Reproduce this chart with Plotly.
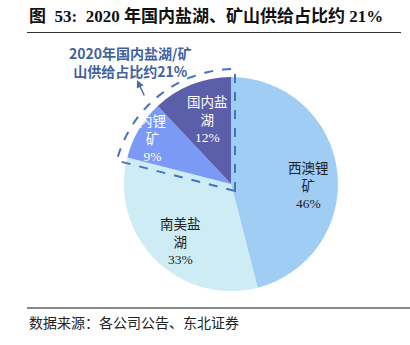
import math
import plotly.graph_objects as go

# ---- data ----
labels = ["西澳锂矿", "南美盐湖", "内锂矿", "国内盐湖"]
label_text = ["西澳锂<br>矿<br>46%", "南美盐<br>湖<br>33%", "内锂<br>矿<br>9%", "国内盐<br>湖<br>12%"]
values = [46, 33, 9, 12]
colors = ["#9fcdf4", "#cdecf4", "#7b9af6", "#5b5ea8"]
text_colors = ["#222222", "#222222", "#ffffff", "#ffffff"]
# label centres in pixels (estimated from reference)
label_pos = [(308, 186), (180, 242), (152, 139), (207, 120)]

title = "图  53:  2020 年国内盐湖、矿山供给占比约 21%"
source = "数据来源：各公司公告、东北证券"
callout = "2020年国内盐湖/矿<br>山供给占比约21%"

W, H = 410, 345
cx, cy, r = 231, 184, 107


def px(x, y):
    return x / W, 1 - y / H


fig = go.Figure()
fig.add_trace(go.Pie(
    labels=labels, values=values, sort=False, direction="clockwise", rotation=0,
    marker=dict(colors=colors, line=dict(width=0)),
    textinfo="none", hoverinfo="label+percent", showlegend=False,
    domain=dict(x=[(cx - r) / W, (cx + r) / W], y=[1 - (cy + r) / H, 1 - (cy - r) / H]),
))

# slice labels
for t, c, (lx, ly) in zip(label_text, text_colors, label_pos):
    xp, yp = px(lx, ly)
    fig.add_annotation(x=xp, y=yp, xref="paper", yref="paper", text=t, showarrow=False,
                       font=dict(size=13.5, color=c, family="Liberation Serif, Noto Sans CJK SC"),
                       align="center", xanchor="center", yanchor="middle")

# dashed sector around domestic share (angles from data)
total = sum(values)
a0 = sum(values[:2]) / total * 360
a1 = 360.0
ocx, ocy, orr = 235, 191, 122
pts = []
n = 40
for i in range(n + 1):
    a = math.radians(a0 + (a1 - a0) * i / n)
    pts.append(px(ocx + orr * math.sin(a), ocy - orr * math.cos(a)))
c0 = px(ocx, ocy)
path = f"M {c0[0]},{c0[1]} " + " ".join(f"L {x},{y}" for x, y in pts) + " Z"
fig.add_shape(type="path", path=path, xref="paper", yref="paper",
              line=dict(color="#4472c4", width=2, dash="dash"), fillcolor="rgba(0,0,0,0)")

# callout text + arrow
xp, yp = px(130, 62)
fig.add_annotation(x=xp, y=yp, xref="paper", yref="paper", text=f"<b>{callout}</b>", showarrow=False,
                   font=dict(size=14, color="#44619e", family="Noto Sans CJK SC"),
                   align="center", xanchor="center", yanchor="middle")
tx, ty = px(137, 80)
fig.add_annotation(x=tx, y=ty, xref="paper", yref="paper", text="", showarrow=True,
                   ax=8, ay=17, arrowhead=2, arrowsize=1, arrowwidth=1.5, arrowcolor="#4a6fb0")

# title + rules + source
xp, yp = px(27, 16)
fig.add_annotation(x=xp, y=yp, xref="paper", yref="paper", text=f"<b>{title}</b>", showarrow=False,
                   font=dict(size=17, color="#111111", family="Liberation Serif, Noto Sans CJK SC"),
                   xanchor="left", yanchor="middle")
l0, l1 = px(27, 32.5), px(401, 32.5)
fig.add_shape(type="line", xref="paper", yref="paper", x0=l0[0], y0=l0[1], x1=l1[0], y1=l1[1],
              line=dict(color="#333333", width=1))
b0, b1 = px(27, 308), px(410, 308)
fig.add_shape(type="line", xref="paper", yref="paper", x0=b0[0], y0=b0[1], x1=b1[0], y1=b1[1],
              line=dict(color="#888888", width=2))
xp, yp = px(27, 323)
fig.add_annotation(x=xp, y=yp, xref="paper", yref="paper", text=source, showarrow=False,
                   font=dict(size=14, color="#222222", family="Liberation Serif, Noto Sans CJK SC"),
                   xanchor="left", yanchor="middle")

fig.update_layout(width=W, height=H, margin=dict(l=0, r=0, t=0, b=0),
                  paper_bgcolor="white", plot_bgcolor="white")
fig.write_html("out.html")
